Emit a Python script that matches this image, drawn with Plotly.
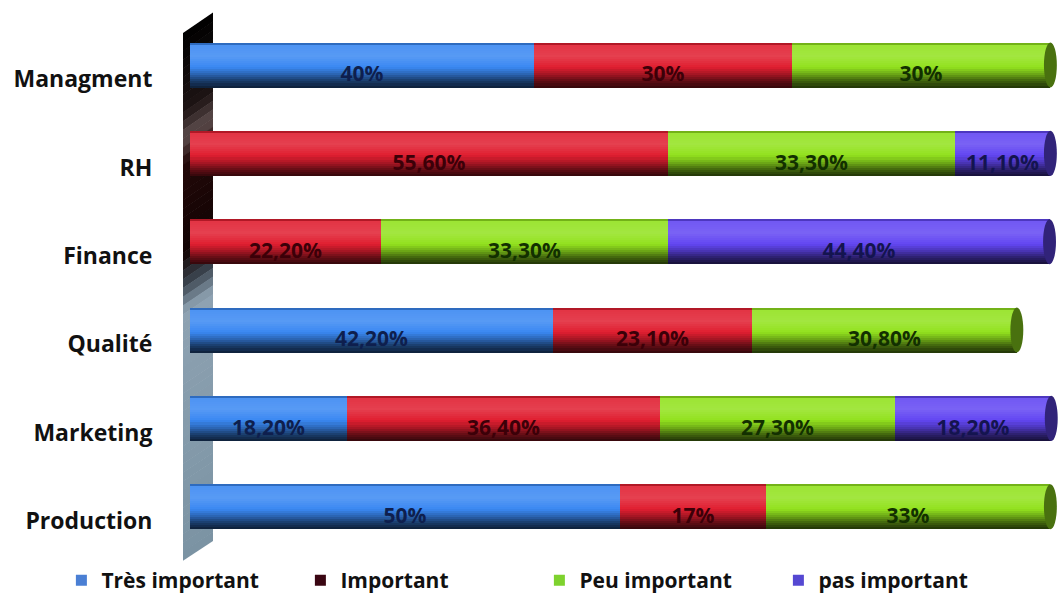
import plotly.graph_objects as go

# ---- data -------------------------------------------------------------
categories = ["Managment", "RH", "Finance", "Qualité", "Marketing", "Production"]
tres_important = [40, 0, 0, 42.2, 18.2, 50]
important = [30, 55.6, 22.2, 23.1, 36.4, 17]
peu_important = [30, 33.3, 33.3, 30.8, 27.3, 33]
pas_important = [0, 11.1, 44.4, 0, 18.2, 0]
label_decimals = [0, 2, 2, 2, 2, 0]
series_names = ["Très important", "Important", "Peu important", "pas important"]

# ---- styling ----------------------------------------------------------
FONT = "Open Sans"
base_colors = ["#3a88f2", "#e01e30", "#92e21e", "#6246f2"]
legend_colors = ["#4a7fd4", "#3a0612", "#7ed22e", "#5548d2"]
text_colors = ["#0e1f4e", "#3c0008", "#123000", "#141450"]

# shading across the cylinder thickness (top -> bottom):
# (fraction, shade) where shade > 0 lightens and shade < 0 darkens
shade_stops = [
    (0.00, -0.40), (0.06, 0.10), (0.30, 0.15), (0.55, 0.0),
    (0.70, -0.25), (0.85, -0.55), (1.00, -0.78),
]
N_BANDS = 22

BAR_W = 0.51       # bar thickness in category units
BAR_SHIFT = -0.16  # bars sit slightly above their category label
TEXT_SHIFT = 0.09  # value text sits slightly below the bar centre
X_MAX = 101


def mix(c1, c2, a):
    r1, g1, b1 = int(c1[1:3], 16), int(c1[3:5], 16), int(c1[5:7], 16)
    r2, g2, b2 = int(c2[1:3], 16), int(c2[3:5], 16), int(c2[5:7], 16)
    r = round(r1 + (r2 - r1) * a)
    g = round(g1 + (g2 - g1) * a)
    b = round(b1 + (b2 - b1) * a)
    return f"#{r:02x}{g:02x}{b:02x}"


def shade(col, f):
    for (f0, s0), (f1, s1) in zip(shade_stops[:-1], shade_stops[1:]):
        if f0 <= f <= f1:
            s = s0 + (s1 - s0) * (f - f0) / (f1 - f0)
            break
    else:
        s = shade_stops[-1][1]
    return mix(col, "#ffffff", s) if s >= 0 else mix(col, "#000000", -s)


def fmt(v, d):
    if v == 0:
        return ""
    return f"{v:.{d}f}".replace(".", ",") + "%"


series = [tres_important, important, peu_important, pas_important]

fig = go.Figure()

# cumulative bases for the stacked segments
bases = []
running = [0.0] * len(categories)
for vals in series:
    bases.append(list(running))
    running = [r + v for r, v in zip(running, vals)]
totals = running

top_offset = BAR_SHIFT - BAR_W / 2
band_h = BAR_W / N_BANDS

for vals, base, col in zip(series, bases, base_colors):
    for i in range(N_BANDS):
        f = (i + 0.5) / N_BANDS
        fig.add_trace(go.Bar(
            y=categories, x=vals, base=base, orientation="h",
            offset=top_offset + i * band_h, width=band_h * 1.08,
            marker=dict(color=shade(col, f), line=dict(width=0)),
            showlegend=False, hoverinfo="skip",
        ))

# value labels on transparent bars spanning each segment
for vals, base, tcol in zip(series, bases, text_colors):
    fig.add_trace(go.Bar(
        y=categories, x=vals, base=base, orientation="h",
        offset=top_offset + TEXT_SHIFT, width=BAR_W,
        marker=dict(color="rgba(0,0,0,0)", line=dict(width=0)),
        text=[fmt(v, d) for v, d in zip(vals, label_decimals)],
        textposition="inside", insidetextanchor="middle",
        constraintext="none", textangle=0,
        textfont=dict(family=FONT, size=21, color=tcol, weight="bold"),
        showlegend=False, hoverinfo="skip",
    ))

# legend entries
for name, lc in zip(series_names, legend_colors):
    fig.add_trace(go.Scatter(
        x=[None], y=[None], mode="markers", name=name,
        marker=dict(symbol="square", size=11, color=lc),
    ))

shapes = []

# rounded end faces of the cylinders
for idx, tot in enumerate(totals):
    last = max(k for k in range(len(series)) if series[k][idx] > 0)
    y0 = idx + top_offset
    shapes.append(dict(
        type="circle", xref="x", yref="y",
        x0=tot - 0.75, x1=tot + 0.75, y0=y0, y1=y0 + BAR_W,
        fillcolor=mix(base_colors[last], "#000000", 0.5),
        line=dict(width=0), layer="above",
    ))

# ---- 3D back wall on the left -----------------------------------------
W_, H_ = 1059, 601
L, R, T, B = 190, 0, 35, 26
pw, ph = W_ - L - R, H_ - T - B


def px(x):
    return (x - L) / pw


def py(y):
    return (H_ - B - y) / ph


wall_stops = [
    (0.00, "#000000"), (0.15, "#1e1414"), (0.20, "#5c4c4c"),
    (0.25, "#220808"), (0.42, "#120404"), (0.48, "#3c4650"),
    (0.53, "#8ea2b2"), (1.00, "#7b93a3"),
]


def wall_color(t):
    for (t0, c0), (t1, c1) in zip(wall_stops[:-1], wall_stops[1:]):
        if t0 <= t <= t1:
            return mix(c0, c1, (t - t0) / (t1 - t0) if t1 > t0 else 0)
    return wall_stops[-1][1]


xl, xr = 183, 213
yl0, yl1 = 33, 570
yr0, yr1 = 12, 550
n = 60
for i in range(n):
    t0, t1 = i / n, (i + 1) / n
    a0, a1 = yl0 + (yl1 - yl0) * t0, yl0 + (yl1 - yl0) * t1
    b0, b1 = yr0 + (yr1 - yr0) * t0, yr0 + (yr1 - yr0) * t1
    path = (f"M {px(xl)},{py(a0)} L {px(xr)},{py(b0)} "
            f"L {px(xr)},{py(b1 + 0.6)} L {px(xl)},{py(a1 + 0.6)} Z")
    shapes.append(dict(type="path", xref="paper", yref="paper", path=path,
                       fillcolor=wall_color((t0 + t1) / 2),
                       line=dict(width=0), layer="below"))

fig.update_layout(
    width=W_, height=H_,
    margin=dict(l=L, r=R, t=T, b=B),
    paper_bgcolor="white", plot_bgcolor="rgba(0,0,0,0)",
    barmode="overlay", bargap=0,
    shapes=shapes,
    font=dict(family=FONT, color="#111111"),
    xaxis=dict(range=[0, X_MAX], visible=False, fixedrange=True),
    yaxis=dict(
        categoryorder="array", categoryarray=categories,
        autorange="reversed", showgrid=False, showline=False, zeroline=False,
        ticks="outside", ticklen=32, tickcolor="rgba(0,0,0,0)",
        tickfont=dict(family=FONT, size=23, color="#111111", weight="bold"),
    ),
    legend=dict(
        orientation="h", x=-0.148, xanchor="left", y=-0.03, yanchor="middle",
        font=dict(family=FONT, size=21, color="#111111", weight="bold"),
        itemwidth=30, entrywidth=194, entrywidthmode="pixels",
        bgcolor="rgba(0,0,0,0)", traceorder="normal",
    ),
)

fig.write_html("out.html")
